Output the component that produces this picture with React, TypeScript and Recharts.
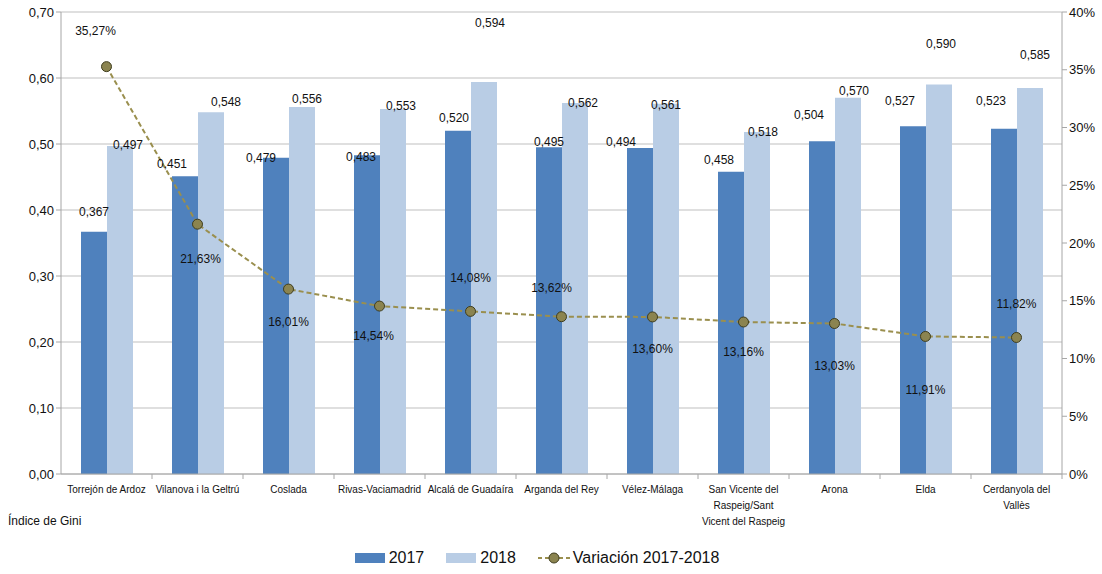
import React from 'react';
import {
    ComposedChart,
    Bar,
    Line,
    XAxis,
    YAxis,
    CartesianGrid,
    LabelList,
    Legend
} from 'recharts';

// Índice de Gini por municipio
const municipios = [
    'Torrejón de Ardoz',
    'Vilanova i la Geltrú',
    'Coslada',
    'Rivas-Vaciamadrid',
    'Alcalá de Guadaíra',
    'Arganda del Rey',
    'Vélez-Málaga',
    'San Vicente del\nRaspeig/Sant\nVicent del Raspeig',
    'Arona',
    'Elda',
    'Cerdanyola del\nVallès'
];
const gini2017 = [0.367, 0.451, 0.479, 0.483, 0.520, 0.495, 0.494, 0.458, 0.504, 0.527, 0.523];
const gini2018 = [0.497, 0.548, 0.556, 0.553, 0.594, 0.562, 0.561, 0.518, 0.570, 0.590, 0.585];
const variacion = [0.3527, 0.2163, 0.1601, 0.1454, 0.1408, 0.1362, 0.1360, 0.1316, 0.1303, 0.1191, 0.1182];

const leftTicks = [0, 0.1, 0.2, 0.3, 0.4, 0.5, 0.6, 0.7];
const rightTicks = [0, 0.05, 0.1, 0.15, 0.2, 0.25, 0.3, 0.35, 0.4];

const data = municipios.map((m, i) => ({
    name: m,
    g2017: gini2017[i],
    g2018: gini2018[i],
    variacion: variacion[i]
}));

// layout
const WIDTH = 1102;
const HEIGHT = 574;
const LEFT_W = 61;
const RIGHT_W = 40;
const HALF_BAND = (WIDTH - LEFT_W - RIGHT_W) / municipios.length / 2;

// label offsets (Excel-style placement), purely cosmetic
const off2017 = [[0, -20], [-13, -12], [-15, 0], [-6, 2], [-4, -13], [0, -5], [-19, -6], [-12, -12], [-13, -26], [-13, -25], [-13, -28]];
const off2018 = [[8, -1], [15, -10], [5, -8], [8, -3], [6, -59], [8, 0], [0, 1], [6, 0], [6, -7], [2, -41], [5, -33]];
const offVar = [[-11, -36], [3, 35], [0, 33], [-6, 30], [0, -33], [-10, -29], [0, 32], [0, 30], [0, 42], [0, 54], [0, -33]];

const FONT = '"Liberation Sans", Arial, sans-serif';
const C2017 = '#4F81BD';
const C2018 = '#B9CDE5';
const CLINE = '#9A8F4E';
const AXIS = '#A6A6A6';

const fmtGini = (v: number) => v.toFixed(3).replace('.', ',');
const fmtPct = (v: number) => (v * 100).toFixed(2).replace('.', ',') + '%';

const barLabel = (offsets: number[][]) => (props: any) => {
    const { x, y, width, value, index } = props;
    const [dx, dy] = offsets[index] || [0, -10];
    return (
        <text
            x={x + width / 2 + dx}
            y={y + dy}
            textAnchor="middle"
            dominantBaseline="central"
            fontSize={12}
            fontFamily={FONT}
            fill="#111"
        >
            {fmtGini(value)}
        </text>
    );
};

const lineLabel = (props: any) => {
    const { x, y, value, index } = props;
    const [dx, dy] = offVar[index] || [0, -20];
    return (
        <text
            x={x + dx}
            y={y + dy}
            textAnchor="middle"
            dominantBaseline="central"
            fontSize={12}
            fontFamily={FONT}
            fill="#111"
        >
            {fmtPct(value)}
        </text>
    );
};

const XTick = ({ x, y, payload, index }: any) => {
    const lines = String(payload.value).split('\n');
    const last = index === municipios.length - 1;
    return (
        <g transform={`translate(${x},${y})`}>
            {index > 0 && <line x1={-HALF_BAND} y1={0} x2={-HALF_BAND} y2={5} stroke={AXIS} />}
            {last && <line x1={HALF_BAND} y1={0} x2={HALF_BAND} y2={5} stroke={AXIS} />}
            {lines.map((l, i) => (
                <text
                    key={i}
                    x={0}
                    y={15 + i * 16}
                    textAnchor="middle"
                    dominantBaseline="central"
                    fontSize={10}
                    fontFamily={FONT}
                    fill="#111"
                >
                    {l}
                </text>
            ))}
        </g>
    );
};

const CustomLegend = () => (
    <div
        style={{
            position: 'relative',
            top: 4,
            display: 'flex',
            justifyContent: 'center',
            alignItems: 'center',
            fontFamily: FONT,
            fontSize: 16,
            color: '#111',
            height: 40,
            paddingRight: 28
        }}
    >
        <span style={{ width: 30, height: 10, background: C2017, marginRight: 4 }} />
        <span style={{ marginRight: 22 }}>2017</span>
        <span style={{ width: 30, height: 10, background: C2018, marginRight: 4 }} />
        <span style={{ marginRight: 22 }}>2018</span>
        <svg width={32} height={12} style={{ marginRight: 3 }}>
            <line x1={0} y1={6} x2={32} y2={6} stroke={CLINE} strokeWidth={2} strokeDasharray="4 3" />
            <circle cx={16} cy={6} r={5} fill="#8B8450" stroke="#3F3D1E" strokeWidth={1} />
        </svg>
        <span>Variación 2017-2018</span>
    </div>
);

const App: React.FC = () => {
    return (
        <div style={{ position: 'absolute', left: 0, top: 0, width: WIDTH, height: HEIGHT, background: '#fff' }}>
            <ComposedChart
                width={WIDTH}
                height={HEIGHT}
                data={data}
                margin={{ top: 12, right: 0, left: 0, bottom: 0 }}
                barGap={0}
            >
                <CartesianGrid yAxisId="left" vertical={false} stroke="#BFBFBF" />
                <XAxis
                    dataKey="name"
                    height={60}
                    interval={0}
                    tickLine={false}
                    tickSize={0}
                    tickMargin={0}
                    axisLine={{ stroke: AXIS }}
                    tick={<XTick />}
                />
                <YAxis
                    yAxisId="left"
                    width={LEFT_W}
                    domain={[0, 0.7]}
                    ticks={leftTicks}
                    tickFormatter={(v: number) => v.toFixed(2).replace('.', ',')}
                    axisLine={{ stroke: AXIS }}
                    tickLine={{ stroke: AXIS }}
                    tickSize={5}
                    tick={{ fontSize: 13, fontFamily: FONT, fill: '#111' }}
                />
                <YAxis
                    yAxisId="right"
                    orientation="right"
                    width={RIGHT_W}
                    domain={[0, 0.4]}
                    ticks={rightTicks}
                    tickFormatter={(v: number) => `${Math.round(v * 100)}%`}
                    axisLine={{ stroke: AXIS }}
                    tickLine={{ stroke: AXIS }}
                    tickSize={5}
                    tick={{ fontSize: 13, fontFamily: FONT, fill: '#111' }}
                />
                <Legend verticalAlign="bottom" height={40} content={<CustomLegend />} />
                <Bar yAxisId="left" dataKey="g2017" name="2017" fill={C2017} barSize={26} isAnimationActive={false}>
                    <LabelList dataKey="g2017" content={barLabel(off2017)} />
                </Bar>
                <Bar yAxisId="left" dataKey="g2018" name="2018" fill={C2018} barSize={26} isAnimationActive={false}>
                    <LabelList dataKey="g2018" content={barLabel(off2018)} />
                </Bar>
                <Line
                    yAxisId="right"
                    dataKey="variacion"
                    name="Variación 2017-2018"
                    type="linear"
                    stroke={CLINE}
                    strokeWidth={2}
                    strokeDasharray="5 3"
                    dot={{ r: 5, fill: '#8B8450', stroke: '#3F3D1E', strokeWidth: 1, strokeDasharray: '' }}
                    isAnimationActive={false}
                >
                    <LabelList dataKey="variacion" content={lineLabel} />
                </Line>
            </ComposedChart>
            <div
                style={{
                    position: 'absolute',
                    left: 8,
                    top: 514,
                    fontFamily: FONT,
                    fontSize: 12,
                    color: '#111'
                }}
            >
                Índice de Gini
            </div>
        </div>
    );
};

export default App;
